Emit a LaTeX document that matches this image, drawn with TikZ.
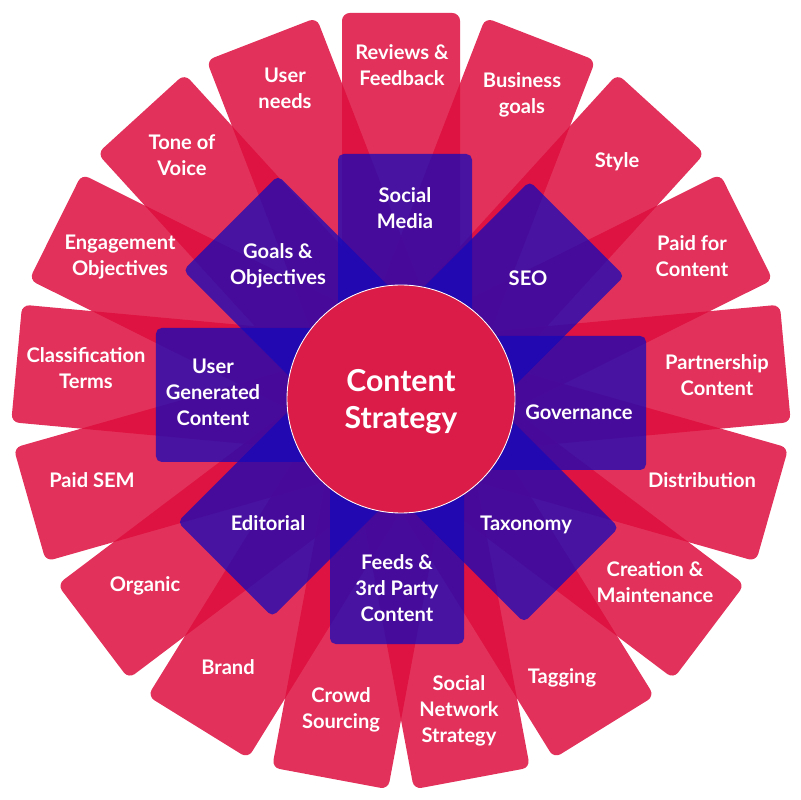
\documentclass[tikz,border=0pt]{standalone}
\usepackage{fontspec}
\setmainfont{Lato}
\definecolor{cardred}{RGB}{221,13,61}
\definecolor{tileblue}{RGB}{21,8,185}
\definecolor{hubred}{RGB}{220,28,72}
\begin{document}
\begin{tikzpicture}[x=0.025cm,y=0.025cm,
	card/.style={fill=cardred, fill opacity=0.85, rounded corners=5.5pt},
	tile/.style={fill=tileblue, fill opacity=0.75, rounded corners=4pt},
	lbl/.style={text=white, align=center, font=\bfseries\fontsize{14.3}{18.4}\selectfont, inner sep=0pt}]
		\useasboundingbox (-401,-401) rectangle (399,399);

		% Outer cards
		\fill[card, rotate=90] (0,-59) rectangle (386,59);
		\fill[card, rotate=68.82] (0,-59) rectangle (386,59);
		\fill[card, rotate=47.65] (0,-59) rectangle (386,59);
		\fill[card, rotate=26.47] (0,-59) rectangle (386,59);
		\fill[card, rotate=5.29] (0,-59) rectangle (386,59);
		\fill[card, rotate=-15.88] (0,-59) rectangle (386,59);
		\fill[card, rotate=-37.06] (0,-59) rectangle (386,59);
		\fill[card, rotate=-58.24] (0,-59) rectangle (386,59);
		\fill[card, rotate=-79.41] (0,-59) rectangle (386,59);
		\fill[card, rotate=-100.59] (0,-59) rectangle (386,59);
		\fill[card, rotate=-121.76] (0,-59) rectangle (386,59);
		\fill[card, rotate=-142.94] (0,-59) rectangle (386,59);
		\fill[card, rotate=-164.12] (0,-59) rectangle (386,59);
		\fill[card, rotate=-185.29] (0,-59) rectangle (386,59);
		\fill[card, rotate=-206.47] (0,-59) rectangle (386,59);
		\fill[card, rotate=-227.65] (0,-59) rectangle (386,59);
		\fill[card, rotate=-248.82] (0,-59) rectangle (386,59);

		% Inner tiles
		\fill[tile, rotate=90] (0,-71) rectangle (245,63);
		\fill[tile, rotate=45] (0,-71) rectangle (245,63);
		\fill[tile, rotate=0] (0,-71) rectangle (245,63);
		\fill[tile, rotate=-45] (0,-71) rectangle (245,63);
		\fill[tile, rotate=-90] (0,-71) rectangle (245,63);
		\fill[tile, rotate=-135] (0,-71) rectangle (245,63);
		\fill[tile, rotate=180] (0,-71) rectangle (245,63);
		\fill[tile, rotate=135] (0,-71) rectangle (245,63);

		% Hub
		\node[circle, fill=hubred, draw=white, line width=0.6pt, minimum size=228*0.025cm, inner sep=0pt] (hub) at (0,0) {};
		\node[lbl, font=\bfseries\fontsize{21.5}{26.2}\selectfont] (cs) at (0,-3) {Content\\Strategy};

		% Outer labels
		\node[lbl] (rev) at (1,334) {Reviews \&\\Feedback};
		\node[lbl] (bus) at (121,304) {Business\\goals};
		\node[lbl] (sty) at (216,237) {Style};
		\node[lbl] (paid) at (291,143) {Paid for\\Content};
		\node[lbl] (part) at (316,24) {Partnership\\Content};
		\node[lbl] (dist) at (301,-81) {Distribution};
		\node[lbl] (crea) at (254,-183) {Creation \&\\Maintenance};
		\node[lbl] (tag) at (161,-279) {Tagging};
		\node[lbl] (snet) at (58,-312) {Social\\Network\\Strategy};
		\node[lbl] (crowd) at (-60,-311) {Crowd\\Sourcing};
		\node[lbl] (brand) at (-173,-268) {Brand};
		\node[lbl] (org) at (-256,-187) {Organic};
		\node[lbl] (sem) at (-309,-81) {Paid SEM};
		\node[lbl] (class) at (-315,31) {Classification\\Terms};
		\node[lbl] (eng) at (-281,142) {Engagement\\Objectives};
		\node[lbl] (tone) at (-219,244) {Tone of\\Voice};
		\node[lbl] (user) at (-116,311) {User\\needs};

		% Inner labels
		\node[lbl] (soc) at (4,191) {Social\\Media};
		\node[lbl] (seo) at (127,121) {SEO};
		\node[lbl] (gov) at (178,-13) {Governance};
		\node[lbl] (tax) at (125,-126) {Taxonomy};
		\node[lbl] (feeds) at (-4,-189) {Feeds \&\\3rd Party\\Content};
		\node[lbl] (edit) at (-133,-124) {Editorial};
		\node[lbl] (ugc) at (-188,7) {User\\Generated\\Content};
		\node[lbl] (goals) at (-123,133) {Goals \&\\Objectives};
	\end{tikzpicture}
\end{document}
